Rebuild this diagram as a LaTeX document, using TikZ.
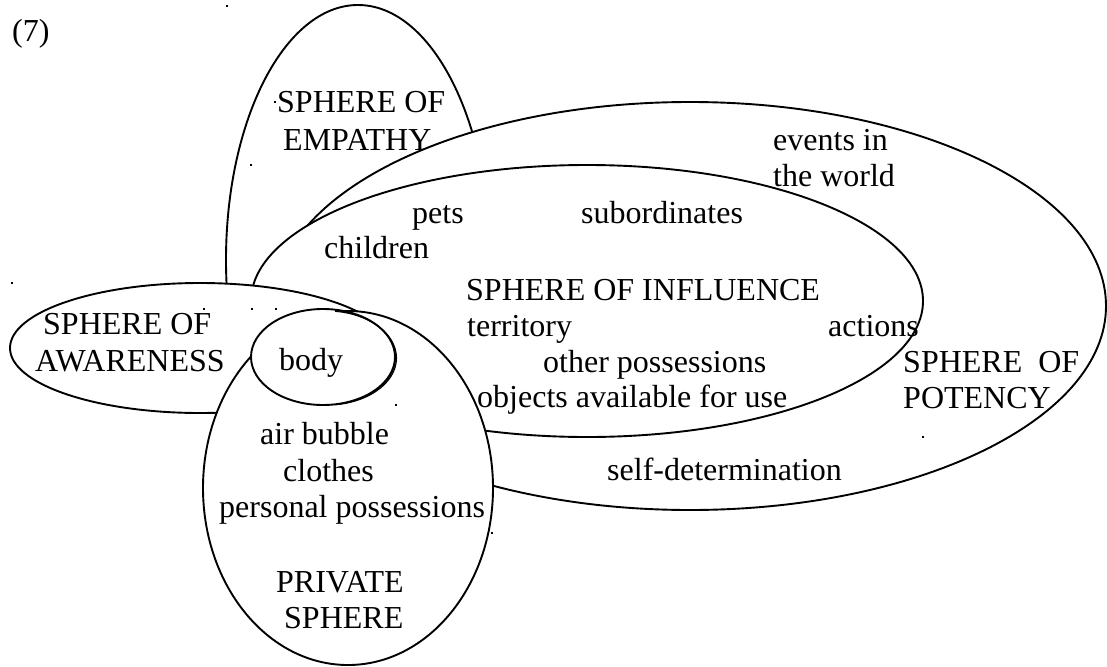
\documentclass[tikz,border=0pt]{standalone}
\usepackage{fontspec}
\setmainfont{Liberation Serif}
\usetikzlibrary{shapes.geometric}
\begin{document}
\begin{tikzpicture}[x=1pt,y=-1pt,
  sphere/.style={ellipse, draw, fill=white, line width=1.9pt, inner sep=0pt, outer sep=0pt},
  rim/.style={ellipse, draw, line width=1.1pt, inner sep=0pt, outer sep=0pt},
  lbl/.style={anchor=base west, inner sep=0pt, font=\fontsize{32}{37}\selectfont},
  speck/.style={fill=black}]
\useasboundingbox (0,0) rectangle (1107,666);

% overlapping spheres, back to front
\node[sphere, minimum width=264pt, minimum height=510pt] (empathy)   at (358,260) {};
\node[sphere, minimum width=832pt, minimum height=408pt] (potency)   at (690,306) {};
\node[sphere, minimum width=672pt, minimum height=272pt] (influence) at (587,301) {};
\node[sphere, minimum width=380pt, minimum height=130pt] (awareness) at (200,348) {};
\node[sphere, minimum width=290pt, minimum height=354pt] (private)   at (348,488) {};
\node[sphere, minimum width=144pt, minimum height=96pt]  (body)      at (323,357) {};

% the retraced right-hand rim of the body
\begin{scope}
  \clip (335,300) rectangle (410,415);
  \node[rim, minimum width=141pt, minimum height=95pt] (bodyrimA) at (325,357.5) {};
  \node[rim, minimum width=139pt, minimum height=94pt] (bodyrimB) at (327,358) {};
\end{scope}

% labels
\node[lbl] (num)   at (12,42)  {(7)};
\node[lbl] (empA)  at (277,113) {SPHERE OF};
\node[lbl] (empB)  at (283,150) {EMPATHY};
\node[lbl] (evA)   at (773,150) {events in};
\node[lbl] (evB)   at (773,186) {the world};
\node[lbl] (pets)  at (412,223) {pets};
\node[lbl] (subo)  at (581,223) {subordinates};
\node[lbl] (chil)  at (324,258) {children};
\node[lbl] (infl)  at (466,300) {SPHERE OF INFLUENCE};
\node[lbl] (terr)  at (467,336) {territory};
\node[lbl] (acts)  at (828,336) {actions};
\node[lbl] (othp)  at (543,372) {other possessions};
\node[lbl] (objs)  at (477,407) {objects available for use};
\node[lbl] (potA)  at (903,372) {SPHERE~~OF};
\node[lbl] (potB)  at (903,408) {POTENCY};
\node[lbl] (self)  at (607,480) {self-determination};
\node[lbl] (awaA)  at (43,334)  {SPHERE OF};
\node[lbl] (awaB)  at (35,371)  {AWARENESS};
\node[lbl] (bodyt) at (279,370) {body};
\node[lbl] (airb)  at (260,444) {air bubble};
\node[lbl] (clot)  at (283,481) {clothes};
\node[lbl] (pers)  at (219,517) {personal possessions};
\node[lbl] (privA) at (276,592) {PRIVATE};
\node[lbl] (privB) at (284,628) {SPHERE};

% stray specks
\foreach \px/\py in {227/6, 275/102, 251/165, 12/283, 204/309, 252/309, 276/309, 396/405, 492/533, 923/437}
  \fill[speck] (\px-1,\py-1) rectangle (\px+1,\py+1);
\end{tikzpicture}
\end{document}
